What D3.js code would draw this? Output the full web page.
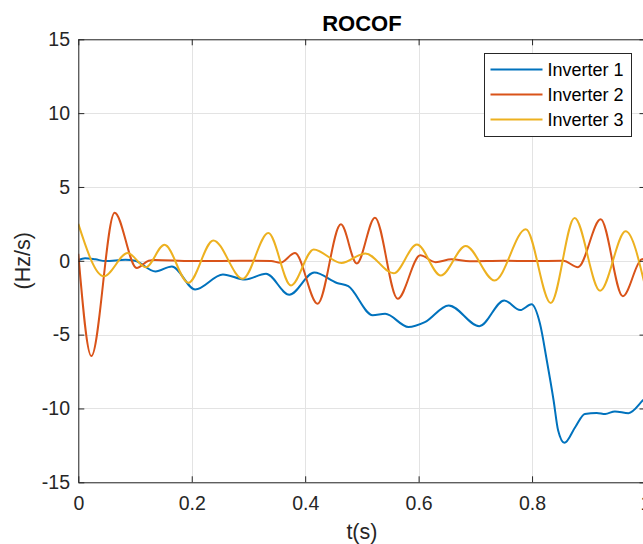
<!DOCTYPE html>
<html>
<head>
<meta charset="utf-8">
<script src="https://cdn.jsdelivr.net/npm/d3@7"></script>
<style>
  html, body { margin: 0; padding: 0; background: #fff; }
  svg { display: block; font-family: "Liberation Sans", Arial, Helvetica, sans-serif; }
</style>
</head>
<body>
<svg id="chart" width="643" height="544"></svg>
<script>
// ---------- data ----------
const seriesNames = ["Inverter 1", "Inverter 2", "Inverter 3"];
const seriesColors = ["#0072BD", "#D95319", "#EDB120"];

const t1 = [0, 0.012, 0.03, 0.048, 0.083, 0.1, 0.136, 0.165, 0.206, 0.255, 0.294, 0.331, 0.372, 0.416, 0.456, 0.476, 0.519, 0.541, 0.582, 0.611, 0.653, 0.707, 0.751, 0.779, 0.799, 0.814, 0.826, 0.838, 0.846, 0.857, 0.876, 0.893, 0.914, 0.929, 0.946, 0.97, 0.995, 1.0];
const v1 = [0.05, 0.18, 0.1, -0.02, 0.07, 0.0, -0.72, -0.38, -1.94, -0.92, -1.27, -0.88, -2.3, -0.8, -1.5, -1.72, -3.68, -3.59, -4.48, -4.15, -3.02, -4.43, -2.68, -3.34, -2.95, -4.27, -6.75, -9.46, -11.5, -12.33, -11.27, -10.37, -10.3, -10.37, -10.2, -10.32, -9.46, -9.25];

const t2 = [0, 0.023, 0.064, 0.103, 0.124, 0.135, 0.2, 0.3, 0.34, 0.356, 0.382, 0.422, 0.463, 0.491, 0.523, 0.563, 0.603, 0.630, 0.658, 0.69, 0.75, 0.8, 0.855, 0.881, 0.921, 0.960, 0.993, 1.0];
const v2 = [0.48, -6.45, 3.26, -0.49, 0.0, 0.05, -0.02, 0.0, -0.02, -0.13, 0.52, -2.91, 2.47, -0.18, 2.92, -2.57, 0.37, -0.09, 0.1, -0.03, 0.0, -0.02, 0.0, -0.43, 2.81, -2.4, 0.1, 0.15];

const t3 = [0, 0.045, 0.087, 0.119, 0.152, 0.194, 0.238, 0.290, 0.335, 0.375, 0.415, 0.464, 0.506, 0.556, 0.597, 0.639, 0.683, 0.734, 0.789, 0.833, 0.875, 0.920, 0.965, 1.0];
const v3 = [2.5, -1.05, 0.52, -0.43, 1.09, -1.49, 1.38, -1.22, 1.88, -1.67, 0.77, -0.15, 0.5, -0.85, 1.1, -0.99, 1.0, -1.33, 2.13, -2.86, 2.9, -2.03, 2.0, -1.85];

const xTicks = [0, 0.2, 0.4, 0.6, 0.8, 1];
const xTickLabels = ["0", "0.2", "0.4", "0.6", "0.8", "1"];
const yTicks = [-15, -10, -5, 0, 5, 10, 15];
const yTickLabels = ["-15", "-10", "-5", "0", "5", "10", "15"];

const titleText = "ROCOF";
const xLabelText = "t(s)";
const yLabelText = "(Hz/s)";

// ---------- layout ----------
const svg = d3.select("#chart");
const L = 78.3, T = 39.3, R = 645.5, B = 482.3;
const axisColor = "#262626";

const x = d3.scaleLinear().domain([0, 1]).range([L, R]);
const y = d3.scaleLinear().domain([-15, 15]).range([B, T]);

// grid
const grid = svg.append("g").attr("stroke", "#e3e3e3").attr("stroke-width", 1);
xTicks.forEach(d => {
  grid.append("line").attr("x1", Math.round(x(d)) + 0.5).attr("x2", Math.round(x(d)) + 0.5)
    .attr("y1", T).attr("y2", B);
});
yTicks.forEach(d => {
  grid.append("line").attr("y1", Math.round(y(d)) + 0.5).attr("y2", Math.round(y(d)) + 0.5)
    .attr("x1", L).attr("x2", R);
});

// clip
svg.append("clipPath").attr("id", "plotclip").append("rect")
  .attr("x", L).attr("y", T).attr("width", R - L).attr("height", B - T);

const line = d3.line().x(d => x(d[0])).y(d => y(d[1])).curve(d3.curveMonotoneX);
const series = [
  d3.zip(t1, v1),
  d3.zip(t2, v2),
  d3.zip(t3, v3)
];
const lines = svg.append("g").attr("clip-path", "url(#plotclip)");
series.forEach((s, i) => {
  lines.append("path").datum(s).attr("d", line)
    .attr("fill", "none").attr("stroke", seriesColors[i]).attr("stroke-width", 2)
    .attr("stroke-linejoin", "round");
});

// axes
const fontSize = 19.5;
const xAxis = d3.axisBottom(x).tickValues(xTicks).tickFormat((d, i) => xTickLabels[i])
  .tickSizeInner(-6).tickSizeOuter(0).tickPadding(14);
const gx = svg.append("g").attr("transform", `translate(0,${B})`).call(xAxis);
const yAxis = d3.axisLeft(y).tickValues(yTicks).tickFormat((d, i) => yTickLabels[i])
  .tickSizeInner(-6).tickSizeOuter(0).tickPadding(8.3);
const gy = svg.append("g").attr("transform", `translate(${L},0)`).call(yAxis);
// top and right ticks
const gxt = svg.append("g").attr("transform", `translate(0,${T})`)
  .call(d3.axisTop(x).tickValues(xTicks).tickFormat("").tickSizeInner(-6).tickSizeOuter(0));
const gyr = svg.append("g").attr("transform", `translate(${R},0)`)
  .call(d3.axisRight(y).tickValues(yTicks).tickFormat("").tickSizeInner(-6).tickSizeOuter(0));

[gx, gy, gxt, gyr].forEach(g => {
  g.attr("font-family", null).attr("font-size", null);
  g.selectAll("path.domain").attr("stroke", axisColor).attr("stroke-width", 1);
  g.selectAll(".tick line").attr("stroke", axisColor).attr("stroke-width", 1);
  g.selectAll(".tick text").attr("fill", axisColor).style("font-size", fontSize + "px");
});

// titles
svg.append("text").attr("x", (L + R) / 2).attr("y", 30.5).attr("text-anchor", "middle")
  .style("font-size", "22px").style("font-weight", "bold").attr("fill", "#000").text(titleText);
svg.append("text").attr("x", (L + R) / 2).attr("y", 539).attr("text-anchor", "middle")
  .style("font-size", "21.5px").attr("fill", axisColor).text(xLabelText);
svg.append("text").attr("transform", `translate(29.5,${(T + B) / 2}) rotate(-90)`)
  .attr("text-anchor", "middle").style("font-size", "21.5px").attr("fill", axisColor).text(yLabelText);

// legend
const lg = svg.append("g");
const lgX = 484.5, lgY = 53.5, lgW = 147, lgH = 83;
lg.append("rect").attr("x", lgX).attr("y", lgY).attr("width", lgW).attr("height", lgH)
  .attr("fill", "#fff").attr("stroke", axisColor).attr("stroke-width", 1);
const rowY = [69.5, 94.5, 119.5];
seriesNames.forEach((n, i) => {
  lg.append("line").attr("x1", 490.5).attr("x2", 542.5).attr("y1", rowY[i]).attr("y2", rowY[i])
    .attr("stroke", seriesColors[i]).attr("stroke-width", 2);
  lg.append("text").attr("x", 547.5).attr("y", rowY[i]).attr("dy", "0.35em")
    .style("font-size", "18px").attr("fill", "#000").text(n);
});
</script>
</body>
</html>
